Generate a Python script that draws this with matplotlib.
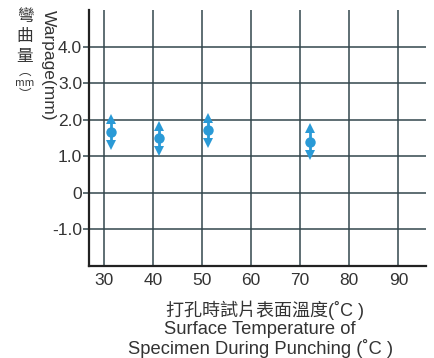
import matplotlib
matplotlib.use("Agg")
import matplotlib.pyplot as plt

# warpage measured at each punching temperature (mean and spread)
temps = [31.5, 41.2, 51.2, 72.0]
warp_mean = [1.67, 1.49, 1.71, 1.39]
warp_hi = [2.01, 1.83, 2.06, 1.77]
warp_lo = [1.30, 1.15, 1.36, 1.04]

x_ticks = [30, 40, 50, 60, 70, 80, 90]
y_ticks = [-1, 0, 1, 2, 3, 4]
y_tick_labels = ["-1.0", "0", "1.0", "2.0", "3.0", "4.0"]

W, H = 434, 358
fig = plt.figure(figsize=(W / 100, H / 100), dpi=100)
ax = fig.add_axes([89 / W, 1 - 266 / H, (426 - 89) / W, (266 - 10) / H])

grid_col = "#33474d"
text_col = "#333333"
blue = "#2a9ad6"
latin = ["Liberation Sans", "Noto Sans CJK TC"]

ax.set_xlim(27, 95.6)
ax.set_ylim(-2, 5)
ax.set_xticks(x_ticks)
ax.set_yticks(y_ticks)
ax.set_yticklabels(y_tick_labels)
ax.grid(True, color=grid_col, lw=1.1)
ax.set_axisbelow(True)

for s in ["top", "right"]:
    ax.spines[s].set_visible(False)
for s in ["left", "bottom"]:
    ax.spines[s].set_color("#222222")
    ax.spines[s].set_linewidth(1.6)

ax.tick_params(axis="y", length=4, width=1.1, color=grid_col, pad=1,
               labelsize=12.5, labelcolor=text_col)
ax.tick_params(axis="x", length=0, pad=5, labelsize=12.5, labelcolor=text_col)
for lab in ax.get_xticklabels() + ax.get_yticklabels():
    lab.set_family(latin)

# range bars: stem, arrow heads and mean dot
ax.vlines(temps, warp_lo, warp_hi, color=blue, lw=2, zorder=3)
ax.plot(temps, warp_hi, "^", color=blue, ms=7.5, mew=0, zorder=4)
ax.plot(temps, warp_lo, "v", color=blue, ms=7.5, mew=0, zorder=4)
ax.plot(temps, warp_mean, "o", color=blue, ms=7.5, mew=0, zorder=5)

# y-axis titles
fig.text(48 / W, 1 - 10 / H, "Warpage(mm)", rotation=270, ha="center", va="top",
         fontsize=12.5, color=text_col, family=latin)
cjk_col = [("彎", 16, 12), ("曲", 36, 12), ("量", 56, 12),
           ("︵", 71, 9), ("mm", 83, 7.5), ("︶", 95, 9)]
for ch, py, fs in cjk_col:
    fig.text(25 / W, 1 - py / H, ch, ha="center", va="center", fontsize=fs,
             color=text_col, family=["Noto Sans CJK TC", "DejaVu Sans"])

# x-axis titles
fig.text(265 / W, 1 - 310 / H, "打孔時試片表面溫度(˚C )", ha="center", va="center",
         fontsize=13, color=text_col, family=latin)
fig.text(260 / W, 1 - 329 / H, "Surface Temperature of", ha="center", va="center",
         fontsize=13.2, color=text_col, family=latin)
fig.text(261 / W, 1 - 348 / H, "Specimen During Punching (˚C )", ha="center",
         va="center", fontsize=13.2, color=text_col, family=latin)

fig.savefig("out.png", dpi=100)
